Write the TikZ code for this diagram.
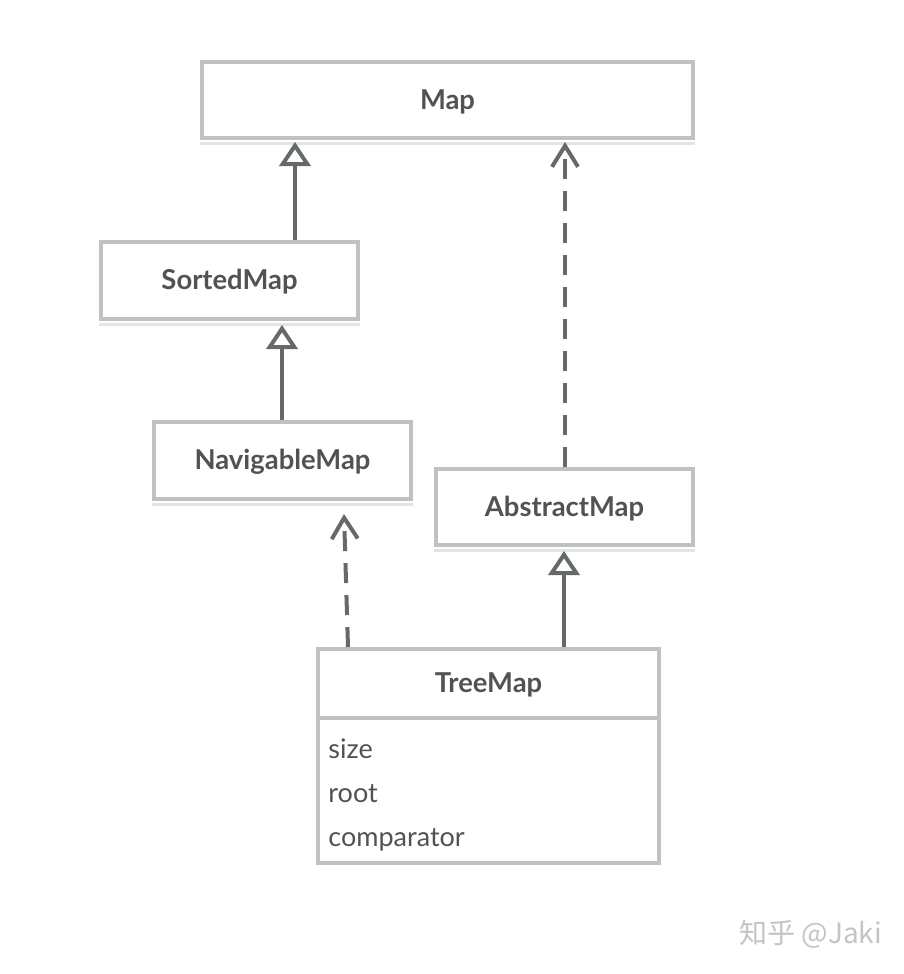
\documentclass[tikz,border=0pt]{standalone}
\usepackage{fontspec}
\setmainfont{Lato}
\newfontfamily\cjkfont{Noto Sans CJK SC}
\usetikzlibrary{arrows.meta,calc}
\definecolor{boxline}{HTML}{BEC2C2}
\definecolor{boxshadow}{HTML}{E3E5E5}
\definecolor{conn}{HTML}{66696B}
\definecolor{txt}{HTML}{505354}
\definecolor{wm}{HTML}{C4C4C4}
\newcommand{\boxtitle}[1]{\raisebox{-4.7pt}[0pt][0pt]{#1}}
\begin{document}
\begin{tikzpicture}[x=0.5pt,y=-0.5pt,
  umlbox/.style={draw=boxline, line width=2pt, fill=white, inner sep=0pt,
    font=\fontsize{13.7}{15}\selectfont\bfseries, text=txt},
  attr/.style={anchor=base west, inner sep=0pt, font=\fontsize{13.5}{15}\selectfont, text=txt},
  inherit/.style={draw=conn, line width=2pt, -{Triangle[open, length=12pt, width=15.5pt, fill=white]}},
  realize/.style={draw=conn, line width=2pt, dash pattern=on 10pt off 6pt,
    -{Straight Barb[length=10.5pt, width=13pt]}},
  shadowfill/.style={fill=boxshadow}
]
\useasboundingbox (0,0) rectangle (904,974);
\fill[white] (0,0) rectangle (904,974);

% boxes
\node[umlbox, minimum width=245.5pt, minimum height=38pt] (map) at (447.5,100) {\boxtitle{Map}};
\node[umlbox, minimum width=128.5pt, minimum height=38.5pt] (sorted) at (229.5,280.5) {\boxtitle{SortedMap}};
\node[umlbox, minimum width=128.5pt, minimum height=38.5pt] (nav) at (282.5,460.5) {\boxtitle{NavigableMap}};
\node[umlbox, minimum width=128.5pt, minimum height=38pt] (abs) at (564.5,507) {\boxtitle{AbstractMap}};
\node[draw=boxline, line width=2pt, fill=white, inner sep=0pt,
  minimum width=170.5pt, minimum height=107pt] (tree) at (488.5,756) {};
\node[font=\fontsize{13.7}{15}\selectfont\bfseries, text=txt, inner sep=0pt, anchor=base] (treetitle) at (488.5,692) {TreeMap};
\coordinate (divl) at ($(tree.north west)+(0,71)$);
\coordinate (divr) at ($(tree.north east)+(0,71)$);
\draw[boxline, line width=2pt] (divl) -- (divr);
\node[attr] (a1) at (328,758) {size};
\node[attr] (a2) at (328,802) {root};
\node[attr] (a3) at (328,846) {comparator};

% shadows
\foreach \n in {map,sorted,nav,abs}{
  \fill[shadowfill] ($(\n.south west)+(0,2)$) rectangle ($(\n.south east)+(0,5)$);
}

% connectors
\draw[inherit] (sorted.north -| 295,0) -- ($(map.south -| 295,0)+(0,2)$);
\draw[inherit] (nav.north -| 282,0) -- ($(sorted.south -| 282,0)+(0,4)$);
\draw[realize] (abs.north -| 565,0) -- ($(map.south -| 565,0)+(0,2)$);
\draw[inherit] (tree.north -| 564,0) -- ($(abs.south -| 564,0)+(0,4)$);
\coordinate (navtip) at ($(nav.south -| 344,0)+(0,13)$);
\draw[realize] (tree.north -| 348,0) -- (navtip);

% watermark
\node[font=\cjkfont\fontsize{14}{16}\selectfont, text=wm, anchor=mid west, inner sep=0pt] (wmk) at (739,938) {知乎 @Jaki};
\end{tikzpicture}
\end{document}
